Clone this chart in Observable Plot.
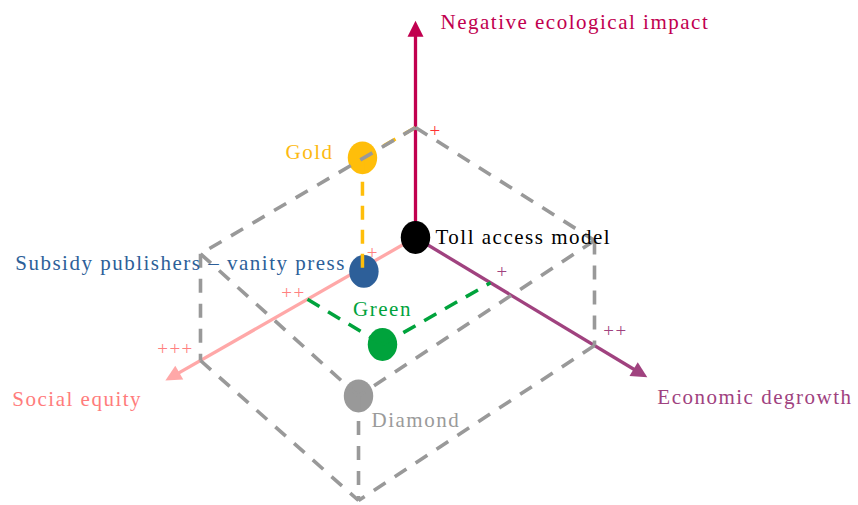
<!DOCTYPE html>
<html>
<head>
<meta charset="utf-8">
<script src="https://cdn.jsdelivr.net/npm/d3@7"></script>
<script src="https://cdn.jsdelivr.net/npm/@observablehq/plot@0.6"></script>
<style>
  html, body { margin: 0; padding: 0; background: #fff; }
  svg text { letter-spacing: 1.5px; }
</style>
</head>
<body>
<div id="chart"></div>
<script>
// ---- Data (3D values: social equity, economic degrowth, negative ecological impact) ----
const axisNames = ["Social equity", "Economic degrowth", "Negative ecological impact"];
const axisColors = ["#FFA8A8", "#A0427F", "#C1004F"];
const axisLabelColors = ["#FF7C7C", "#A0427F", "#C1004F"];
const axisEndSocial = [3.49, 0, 0];
const axisEndEconomic = [0, 2.59, 0];
const axisEndImpact = [0, 0, 1.97];

const models = ["Toll access model", "Gold", "Subsidy publishers \u2013 vanity press", "Green", "Diamond"];
const modelColors = ["#000000", "#FFBE0A", "#2D5F99", "#00A33C", "#999999"];
const modelLabelColors = ["#000000", "#FDBA12", "#2D5F99", "#00A33C", "#9A9A9A"];
const modelSocial = [0, 0.74, 0.72, 1.507, 3.53];
const modelEconomic = [0, 0, 0, 0.838, 2.19];
const modelImpact = [0, 1, -0.04, 0, 0.95];

const tickLabels = ["+", "++", "+++"];
const socialTicks = [0.72, 1.507, 3];
const economicTicks = [0.838, 2];
const impactTicks = [1];

const boxVertexNames = ["T", "LT", "RT", "FT", "LB", "RB", "FB"];
const boxSocial = [0, 3, 0, 3.53, 3, 0, 3.53];
const boxEconomic = [0, 0, 2, 2.19, 0, 2, 2.19];
const boxImpact = [1, 0.97, 0.955, 0.95, 0, 0, 0];
const boxEdges = [["T","LT"],["T","RT"],["LT","FT"],["RT","FT"],["LT","LB"],["RT","RB"],["FT","FB"],["LB","FB"],["RB","FB"]];

// ---- Oblique projection of the 3D values onto the page plane ----
const S = [-0.7167, -0.41], E = [0.895, -0.54], V = [0, 1.10];
const proj = (s, e, v) => [s * S[0] + e * E[0] + v * V[0], s * S[1] + e * E[1] + v * V[1]];

// axes
const axes = axisNames.map((name, i) => {
  const [x2, y2] = proj(axisEndSocial[i], axisEndEconomic[i], axisEndImpact[i]);
  const len = Math.hypot(x2, y2);
  const k = (len - 0.08) / len;
  return {name, color: axisColors[i], labelColor: axisLabelColors[i], x1: 0, y1: 0, x2, y2,
          sx: x2 * k, sy: y2 * k, angle: Math.atan2(x2, y2) * 180 / Math.PI};
});

// models
const pts = models.map((name, i) => {
  const [x, y] = proj(modelSocial[i], modelEconomic[i], modelImpact[i]);
  return {name, x, y, color: modelColors[i], labelColor: modelLabelColors[i]};
});

// guides (dashed projections of Gold and Green onto the axes)
const gi = models.indexOf("Gold"), gr = models.indexOf("Green");
const seg = (a, b, color) => {
  const p = proj(...a), q = proj(...b);
  return {x1: p[0], y1: p[1], x2: q[0], y2: q[1], color};
};
const guides = [
  seg([modelSocial[gi], 0, modelImpact[gi]], [0, 0, modelImpact[gi]], modelColors[gi]),
  seg([modelSocial[gi], 0, modelImpact[gi]], [modelSocial[gi], 0, 0], modelColors[gi]),
  seg([modelSocial[gr], 0, 0], [modelSocial[gr], modelEconomic[gr], 0], modelColors[gr]),
  seg([modelSocial[gr], modelEconomic[gr], 0], [0, modelEconomic[gr], 0], modelColors[gr])
];

// box edges
const vtx = name => { const i = boxVertexNames.indexOf(name); return [boxSocial[i], boxEconomic[i], boxImpact[i]]; };
const edges = boxEdges.map(([a, b]) => seg(vtx(a), vtx(b), "#999999"));

// tick labels
const ticks = [
  ...socialTicks.map((t, i) => { const [x, y] = proj(t, 0, 0); return {x, y, label: tickLabels[i], color: "#FF8080", dx: [9, -14, -25][i], dy: [-14, -6, -12][i]}; }),
  ...economicTicks.map((t, i) => { const [x, y] = proj(0, t, 0); return {x, y, label: tickLabels[i], color: "#A0427F", dx: [12, 21][i], dy: [-11, -15][i]}; }),
  ...impactTicks.map((t, i) => { const [x, y] = proj(0, 0, t); return {x, y, label: tickLabels[i], color: "#FF3333", dx: 20, dy: 3}; })
];

// custom symbols
const arrowHead = {draw(ctx, size) { const r = Math.sqrt(size / Math.PI); ctx.moveTo(0, 0); ctx.lineTo(r, 2 * r); ctx.lineTo(-r, 2 * r); ctx.closePath(); }};
const ellipse = {draw(ctx, size) {
  const r = Math.sqrt(size / Math.PI), rx = r * 0.95, ry = r * 1.06, k = 0.5523;
  ctx.moveTo(rx, 0);
  ctx.bezierCurveTo(rx, k * ry, k * rx, ry, 0, ry);
  ctx.bezierCurveTo(-k * rx, ry, -rx, k * ry, -rx, 0);
  ctx.bezierCurveTo(-rx, -k * ry, -k * rx, -ry, 0, -ry);
  ctx.bezierCurveTo(k * rx, -ry, rx, -k * ry, rx, 0);
  ctx.closePath();
}};

const font = "Liberation Serif, Times New Roman, serif";
const labelOffsets = {
  "Toll access model": {dx: 20, dy: 0, anchor: "start"},
  "Gold": {dx: -29, dy: -6, anchor: "end"},
  "Subsidy publishers \u2013 vanity press": {dx: -18, dy: -8, anchor: "end"},
  "Green": {dx: 0, dy: -35, anchor: "middle"},
  "Diamond": {dx: 13, dy: 24, anchor: "start"}
};
const axisLabelOffsets = {
  "Social equity": {dx: -153, dy: 19},
  "Economic degrowth": {dx: 10, dy: 20},
  "Negative ecological impact": {dx: 25, dy: 1}
};

const labelMarks = pts.map(p => Plot.text([p], {x: "x", y: "y", text: "name", fill: p.labelColor,
  dx: labelOffsets[p.name].dx, dy: labelOffsets[p.name].dy, textAnchor: labelOffsets[p.name].anchor,
  fontFamily: font, fontSize: 21}));
const axisLabelMarks = axes.map(a => Plot.text([a], {x: "x2", y: "y2", text: "name", fill: a.labelColor,
  dx: axisLabelOffsets[a.name].dx, dy: axisLabelOffsets[a.name].dy, textAnchor: "start",
  fontFamily: font, fontSize: 21}));
const tickMarks = ticks.map(t => Plot.text([t], {x: "x", y: "y", text: "label", fill: t.color,
  dx: t.dx, dy: t.dy, fontFamily: font, fontSize: 19}));

const chart = Plot.plot({
  width: 858,
  height: 505,
  margin: 0,
  x: {domain: [-4.15, 4.43], axis: null},
  y: {domain: [-2.68, 2.37], axis: null},
  marks: [
    Plot.link(axes, {x1: "x1", y1: "y1", x2: "sx", y2: "sy", stroke: d => d.color, strokeWidth: 3.3}),
    Plot.dot(axes, {x: "x2", y: "y2", symbol: arrowHead, r: 8, rotate: "angle", fill: d => d.color, stroke: "none"}),
    Plot.dot(pts, {x: "x", y: "y", symbol: ellipse, r: 15.5, fill: d => d.color, stroke: "none"}),
    Plot.link(guides, {x1: "x1", y1: "y1", x2: "x2", y2: "y2", stroke: d => d.color, strokeWidth: 3.5, strokeDasharray: "14,10"}),
    Plot.link(edges, {x1: "x1", y1: "y1", x2: "x2", y2: "y2", stroke: "#999999", strokeWidth: 3.6, strokeDasharray: "14,11"}),
    ...labelMarks,
    ...axisLabelMarks,
    ...tickMarks
  ]
});
document.getElementById("chart").appendChild(chart);
</script>
</body>
</html>
